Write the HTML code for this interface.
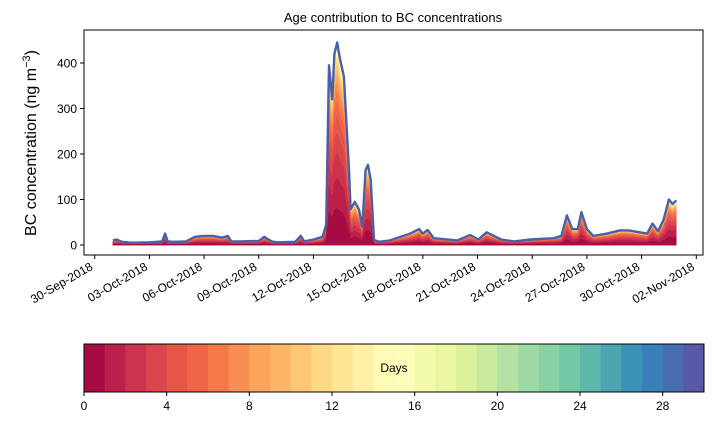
<!DOCTYPE html>
<html><head><meta charset="utf-8"><style>
body{margin:0;background:#fff;font-family:"Liberation Sans",sans-serif}
svg text{font-family:"Liberation Sans",sans-serif;fill:#000}
</style></head><body>
<svg id="c" width="714" height="425" viewBox="0 0 714 425">
<text x="393" y="22" font-size="13" text-anchor="middle">Age contribution to BC concentrations</text>
<text transform="translate(36,143) rotate(-90)" font-size="16" text-anchor="middle">BC concentration (ng m<tspan dy="-6" font-size="11">−3</tspan><tspan dy="6">)</tspan></text>
<g id="plot"></g>
<rect x="84" y="30" width="619" height="225" fill="none" stroke="#000" stroke-width="1"/>
<g id="axes"></g>
<g id="cbar"></g>
</svg>
<script>
const days=[1.0,1.2,1.5,2,3,3.7,3.86,4.0,4.3,5,5.5,6,6.5,7,7.3,7.5,8,9,9.3,9.7,10,11,11.3,11.5,12,12.5,12.7,12.85,13.03,13.15,13.3,13.45,13.67,13.95,14.04,14.26,14.5,14.68,14.86,14.99,15.14,15.32,15.6,16.2,17.3,17.8,18.0,18.26,18.6,19.9,20.6,21.05,21.5,22.3,23.0,23.9,25.2,25.6,25.9,26.2,26.5,26.7,27.0,27.35,28.1,28.8,29.3,30.3,30.6,30.9,31.2,31.5,31.7,31.9];
const total=[10,12,7,5,6,8,25,8,7,8,18,20,20,16,20,8,8,9,18,8,6,7,20,8,12,18,45,395,320,420,445,410,370,165,78,95,78,40,165,176,143,11,7,10,25,35,25,33,15,10,22,12,28,12,8,12,15,20,65,35,35,72,35,20,25,32,32,25,47,30,55,100,90,98];
const meanAge=5;
const yTicks=[0,100,200,300,400];
const xTickLabels=["30-Sep-2018","03-Oct-2018","06-Oct-2018","09-Oct-2018","12-Oct-2018","15-Oct-2018","18-Oct-2018","21-Oct-2018","24-Oct-2018","27-Oct-2018","30-Oct-2018","02-Nov-2018"];
const cbTicks=[0,4,8,12,16,20,24,28];
const NS="http://www.w3.org/2000/svg";
const X=d=>94.7+18.23*d, Y=v=>245-0.455*v;
const anchors=["#9e0142","#d53e4f","#f46d43","#fdae61","#fee08b","#ffffbf","#e6f598","#abdda4","#66c2a5","#3288bd","#5e4fa2"];
function hex(h){return [1,3,5].map(i=>parseInt(h.substr(i,2),16));}
function spec(t){const p=t*10,i=Math.min(9,Math.floor(p)),f=p-i,a=hex(anchors[i]),b=hex(anchors[i+1]);return "rgb("+a.map((v,k)=>Math.round(v+(b[k]-v)*f)).join(",")+")";}
function el(tag,attrs,parent){const e=document.createElementNS(NS,tag);for(const k in attrs)e.setAttribute(k,attrs[k]);parent.appendChild(e);return e;}
const plot=document.getElementById('plot');
for(let k=29;k>=0;k--){
  const cum=k===29?1:1-Math.exp(-(k+1)/meanAge);
  let pts=days.map((d,i)=>X(d).toFixed(1)+","+Y(total[i]*cum).toFixed(1));
  pts.push(X(days[days.length-1]).toFixed(1)+","+Y(0));pts.push(X(days[0]).toFixed(1)+","+Y(0));
  const p=el('polygon',{points:pts.join(" "),fill:spec((k+0.5)/30),stroke:spec((k+0.5)/30),"stroke-width":0.6},plot);
  
  
}
const line=el('polyline',{points:days.map((d,i)=>X(d).toFixed(1)+","+Y(total[i]).toFixed(1)).join(" "),fill:"none",stroke:"#4a5fa8","stroke-width":2.4,"stroke-linejoin":"round"},plot);


const axes=document.getElementById('axes');
yTicks.forEach(v=>{
  const t=el('line',{x1:80,x2:84,y1:Y(v),y2:Y(v),stroke:"#000"},axes);
  
  
  const l=el('text',{x:77,y:Y(v)+4.5,"font-size":12,"text-anchor":"end"},axes);l.textContent=v;
  
  
});
xTickLabels.forEach((s,i)=>{
  const x=X(i*3);
  const t=el('line',{x1:x,x2:x,y1:255,y2:259,stroke:"#000"},axes);
  
  
  const l=el('text',{transform:`translate(${x-1},${269}) rotate(-30)`,"font-size":12,"text-anchor":"end"},axes);l.textContent=s;
  
  
});
const cb=document.getElementById('cbar');
const cx0=84,cw=620,cy=344,ch=48;
for(let i=0;i<30;i++){
  const r=el('rect',{x:cx0+cw*i/30,y:cy,width:cw/30+0.5,height:ch,fill:spec((i+0.5)/30)},cb);
  
  
}
const fr=el('rect',{x:cx0,y:cy,width:cw,height:ch,fill:"none",stroke:"#000"},cb);


const dl=el('text',{x:394,y:372,"font-size":12,"text-anchor":"middle"},cb);dl.textContent="Days";


cbTicks.forEach(v=>{
  const x=cx0+cw*v/30;
  const t=el('line',{x1:x,x2:x,y1:cy+ch,y2:cy+ch+4,stroke:"#000"},cb);
  
  
  const l=el('text',{x:x,y:cy+ch+18,"font-size":12,"text-anchor":"middle"},cb);l.textContent=v;
  
  
});
</script>
</body></html>
